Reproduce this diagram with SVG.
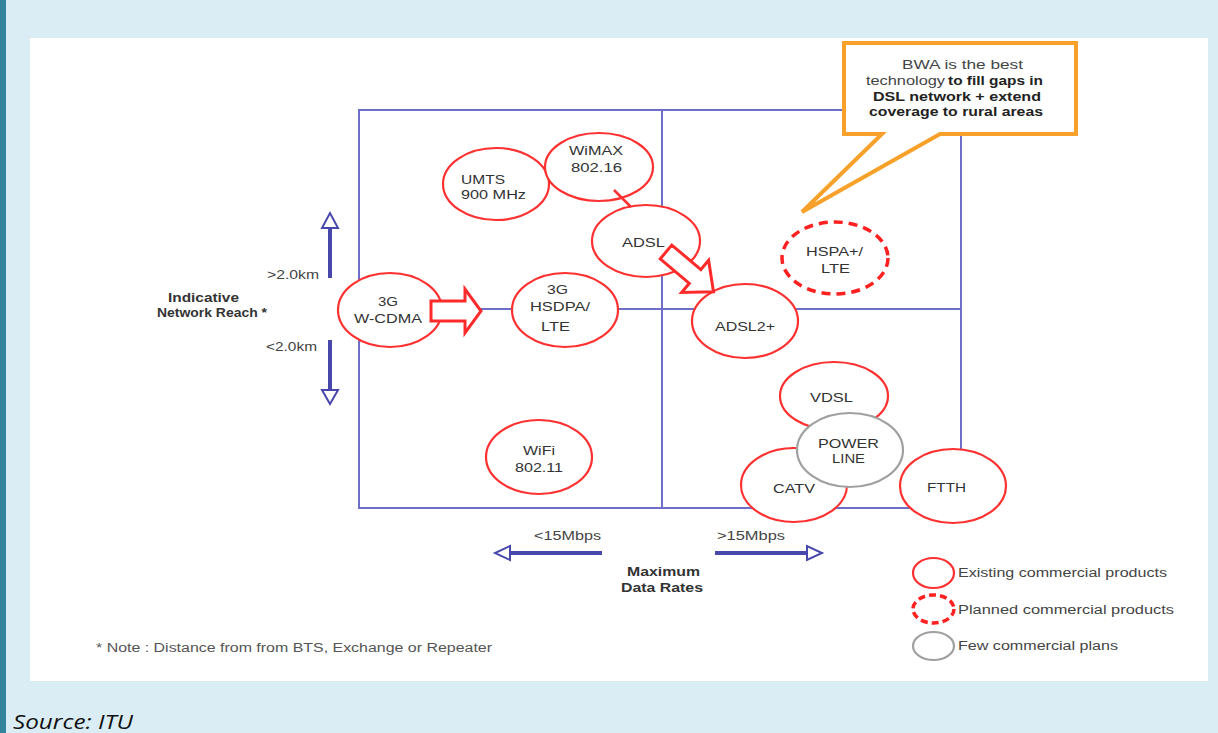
<svg xmlns="http://www.w3.org/2000/svg" width="1218" height="733" viewBox="0 0 1218 733">
<style>
.grid{stroke:#6E6EC8;stroke-width:2;fill:none}
.ex{fill:#fff;stroke:#FF3030;stroke-width:2.2}
.pl{fill:#fff;stroke:#FF2020;stroke-width:3.5;stroke-dasharray:9 6}
.few{fill:#fff;stroke:#A0A0A0;stroke-width:2.2}
.lbl{font-family:"Liberation Sans",Arial,sans-serif;font-size:13px;fill:#333}
.sm{font-family:"Liberation Sans",Arial,sans-serif;font-size:12px;fill:#444}
.bd{font-family:"Liberation Sans",Arial,sans-serif;font-size:12px;font-weight:bold;fill:#333}
.blk{fill:#fff;stroke:#FF2A2A;stroke-width:3;stroke-linejoin:miter}
.ax{stroke:#4848AC;stroke-width:4;fill:none}
.axh{fill:#fff;stroke:#4848AC;stroke-width:2}
</style>
<rect x="0" y="0" width="1218" height="733" fill="#DAEDF4"/>
<rect x="0" y="0" width="6" height="733" fill="#31849B"/>
<rect x="30" y="38" width="1178" height="643" fill="#fff"/>

<g id="grid">
<rect class="grid" x="359" y="110" width="602" height="398"/>
<line class="grid" x1="662" y1="110" x2="662" y2="508"/>
<line class="grid" x1="359" y1="309" x2="961" y2="309"/>
</g>

<g id="axes">
<line class="ax" x1="330" y1="278" x2="330" y2="228"/>
<polygon class="axh" points="322,228 338,228 330,213"/>
<line class="ax" x1="330" y1="340" x2="330" y2="390"/>
<polygon class="axh" points="322,390 338,390 330,404"/>
<line class="ax" x1="602" y1="553" x2="510" y2="553"/>
<polygon class="axh" points="510,546 510,560 495,553"/>
<line class="ax" x1="715" y1="553" x2="807" y2="553"/>
<polygon class="axh" points="807,546 807,560 822,553"/>
<text class="sm" x="267" y="279" textLength="52" lengthAdjust="spacingAndGlyphs">&gt;2.0km</text>
<text class="sm" x="266" y="351" textLength="51" lengthAdjust="spacingAndGlyphs">&lt;2.0km</text>
<text class="bd" x="168" y="302" textLength="71" lengthAdjust="spacingAndGlyphs">Indicative</text>
<text class="bd" x="157" y="317" textLength="110" lengthAdjust="spacingAndGlyphs">Network Reach *</text>
<text class="sm" x="534" y="540" textLength="67" lengthAdjust="spacingAndGlyphs">&lt;15Mbps</text>
<text class="sm" x="717" y="540" textLength="68" lengthAdjust="spacingAndGlyphs">&gt;15Mbps</text>
<text class="bd" x="627" y="576" textLength="73" lengthAdjust="spacingAndGlyphs">Maximum</text>
<text class="bd" x="621" y="592" textLength="82" lengthAdjust="spacingAndGlyphs">Data Rates</text>
</g>

<g id="umts">
<ellipse class="ex" cx="496" cy="184" rx="53" ry="36"/>
<text class="lbl" x="461" y="184" textLength="44" lengthAdjust="spacingAndGlyphs">UMTS</text>
<text class="lbl" x="461" y="199" textLength="65" lengthAdjust="spacingAndGlyphs">900 MHz</text>
</g>
<g id="wimax">
<ellipse class="ex" cx="599" cy="167" rx="54" ry="34"/>
<text class="lbl" x="569" y="155" textLength="54" lengthAdjust="spacingAndGlyphs">WiMAX</text>
<text class="lbl" x="571" y="172" textLength="51" lengthAdjust="spacingAndGlyphs">802.16</text>
</g>
<g id="adsl">
<ellipse class="ex" cx="646" cy="241" rx="54" ry="36"/>
<text class="lbl" x="622" y="247" textLength="43" lengthAdjust="spacingAndGlyphs">ADSL</text>
</g>
<g id="wcdma">
<ellipse class="ex" cx="390" cy="310" rx="52" ry="37"/>
<text class="lbl" x="378" y="306" textLength="20" lengthAdjust="spacingAndGlyphs">3G</text>
<text class="lbl" x="354" y="323" textLength="68" lengthAdjust="spacingAndGlyphs">W-CDMA</text>
</g>
<g id="hsdpa">
<ellipse class="ex" cx="565" cy="310" rx="53" ry="37"/>
<text class="lbl" x="547" y="294" textLength="21" lengthAdjust="spacingAndGlyphs">3G</text>
<text class="lbl" x="530" y="311" textLength="60" lengthAdjust="spacingAndGlyphs">HSDPA/</text>
<text class="lbl" x="541" y="331" textLength="29" lengthAdjust="spacingAndGlyphs">LTE</text>
</g>
<g id="adsl2">
<ellipse class="ex" cx="745" cy="321" rx="53" ry="37"/>
<text class="lbl" x="715" y="331" textLength="60" lengthAdjust="spacingAndGlyphs">ADSL2+</text>
</g>
<g id="hspa">
<ellipse class="pl" cx="835" cy="258" rx="53" ry="36"/>
<text class="lbl" x="806" y="256" textLength="57" lengthAdjust="spacingAndGlyphs">HSPA+/</text>
<text class="lbl" x="821" y="273" textLength="29" lengthAdjust="spacingAndGlyphs">LTE</text>
</g>
<g id="wifi">
<ellipse class="ex" cx="539" cy="457" rx="53" ry="37"/>
<text class="lbl" x="523" y="455" textLength="32" lengthAdjust="spacingAndGlyphs">WiFi</text>
<text class="lbl" x="515" y="472" textLength="48" lengthAdjust="spacingAndGlyphs">802.11</text>
</g>
<g id="vdsl">
<ellipse class="ex" cx="834" cy="396" rx="54" ry="34"/>
<text class="lbl" x="810" y="402" textLength="43" lengthAdjust="spacingAndGlyphs">VDSL</text>
</g>
<g id="catv">
<ellipse class="ex" cx="794" cy="485" rx="53" ry="37"/>
<text class="lbl" x="773" y="493" textLength="42" lengthAdjust="spacingAndGlyphs">CATV</text>
</g>
<g id="powerline">
<ellipse class="few" cx="850" cy="450" rx="53" ry="37"/>
<text class="lbl" x="818" y="448" textLength="61" lengthAdjust="spacingAndGlyphs">POWER</text>
<text class="lbl" x="832" y="463" textLength="33" lengthAdjust="spacingAndGlyphs">LINE</text>
</g>
<g id="ftth">
<ellipse class="ex" cx="953" cy="486" rx="53" ry="37"/>
<text class="lbl" x="927" y="492" textLength="39" lengthAdjust="spacingAndGlyphs">FTTH</text>
</g>

<g id="connectors">
<line x1="614" y1="190" x2="631" y2="207" stroke="#FF3030" stroke-width="2.5"/>
<polygon class="blk" points="431,301 465,301 465,289 481,311 465,333 465,321 431,321"/>
<polygon class="blk" transform="translate(666,252) rotate(40)" points="0,-9 38,-9 38,-21 62,0 38,21 38,9 0,9"/>
</g>

<g id="callout">
<path d="M844,43 H1076 V134 H940 L802,212 L882,134 H844 Z" fill="#fff" stroke="#F7A02A" stroke-width="4" stroke-linejoin="miter"/>
<text x="902" y="69" font-family="Liberation Sans, Arial, sans-serif" font-size="12.5" fill="#444" textLength="121" lengthAdjust="spacingAndGlyphs">BWA  is the best</text>
<text y="85" font-family="Liberation Sans, Arial, sans-serif" font-size="12.5" fill="#444"><tspan x="866" textLength="79" lengthAdjust="spacingAndGlyphs">technology</tspan><tspan x="948" font-weight="bold" fill="#222" textLength="95" lengthAdjust="spacingAndGlyphs">to fill gaps in</tspan></text>
<text x="873" y="101" font-family="Liberation Sans, Arial, sans-serif" font-size="12.5" font-weight="bold" fill="#222" textLength="168" lengthAdjust="spacingAndGlyphs">DSL network + extend</text>
<text x="869" y="116" font-family="Liberation Sans, Arial, sans-serif" font-size="12.5" font-weight="bold" fill="#222" textLength="174" lengthAdjust="spacingAndGlyphs">coverage to rural areas</text>
</g>

<g id="legend">
<ellipse class="ex" cx="933.5" cy="573" rx="20.5" ry="15"/>
<ellipse class="pl" cx="933.5" cy="609" rx="20.5" ry="14" style="stroke-dasharray:7 4"/>
<ellipse class="few" cx="933.5" cy="646" rx="20.5" ry="14"/>
<text class="sm" x="958" y="577" textLength="209" lengthAdjust="spacingAndGlyphs">Existing commercial products</text>
<text class="sm" x="958" y="614" textLength="216" lengthAdjust="spacingAndGlyphs">Planned commercial products</text>
<text class="sm" x="958" y="650" textLength="160" lengthAdjust="spacingAndGlyphs">Few commercial plans</text>
</g>

<g id="notes">
<text class="sm" x="96" y="652" fill="#555" textLength="396" lengthAdjust="spacingAndGlyphs" style="fill:#555">*  Note : Distance from from BTS, Exchange or Repeater</text>
<text x="13" y="729" font-family="Open Sans, Liberation Sans, sans-serif" font-style="italic" font-size="20" fill="#111" textLength="120" lengthAdjust="spacingAndGlyphs">Source:  ITU</text>
</g>
</svg>
